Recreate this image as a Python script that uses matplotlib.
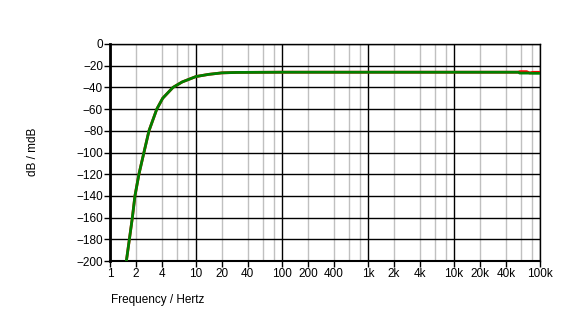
import matplotlib.pyplot as plt
import matplotlib.ticker as mticker

plt.rcParams['font.family'] = ['Liberation Sans', 'DejaVu Sans']
plt.rcParams['font.size'] = 8.5

freq = [1.55, 1.68, 1.82, 1.95, 2.17, 2.48, 2.84, 3.5, 4.1, 5.4, 6.9, 8.0, 10, 14, 20, 30,
        100, 1000, 10000, 56000, 58000, 70000, 76000, 82000, 100000]
level = [-200, -180, -160, -140, -120, -100, -80, -60, -50, -40, -35, -33, -30, -28, -26.6, -26.2,
         -26, -26, -26, -26, -26.8, -26.8, -26.8, -27, -27]
red_level = [-200, -180, -160, -140, -120, -100, -80, -60, -50, -40, -35, -33, -30, -28, -26.6, -26.2,
             -26, -26, -26, -26, -25.5, -25.5, -26.8, -26.1, -26.1]

xticks = [1, 2, 4, 10, 20, 40, 100, 200, 400, 1000, 2000, 4000, 10000, 20000, 40000, 100000]
xlabels = ['1', '2', '4', '10', '20', '40', '100', '200', '400', '1k', '2k', '4k',
           '10k', '20k', '40k', '100k']
yticks = list(range(-200, 1, 20))

fig = plt.figure(figsize=(5.77, 3.36), dpi=100)
ax = fig.add_axes([110 / 577, 1 - 261 / 336, 430 / 577, 217 / 336])

ax.plot(freq, red_level, color='red', lw=2, zorder=3)
ax.plot(freq, level, color='#008000', lw=2, zorder=4)

ax.set_xscale('log')
ax.set_xlim(1, 100000)
ax.set_ylim(-200, 0)

ax.xaxis.set_major_locator(mticker.FixedLocator(xticks))
ax.xaxis.set_major_formatter(mticker.FixedFormatter(xlabels))
ax.xaxis.set_minor_locator(mticker.NullLocator())
ax.set_yticks(yticks)

# grid: black at decades and every 20 dB, gray at 2,4,6,8
for d in [1, 10, 100, 1000, 10000, 100000]:
    ax.axvline(d, color='black', lw=1, zorder=2)
    if d < 100000:
        for m in [2, 4, 6, 8]:
            ax.axvline(d * m, color='#c0c0c0', lw=1, zorder=1)
for y in yticks:
    ax.axhline(y, color='black', lw=1, zorder=2)

for s in ax.spines.values():
    s.set_linewidth(1)
ax.spines['left'].set_linewidth(2)
ax.spines['bottom'].set_linewidth(1.5)

ax.tick_params(direction='out', length=4, width=1, pad=1, colors='black')

fig.text(33 / 577, 1 - 152 / 336, 'dB / mdB', rotation=90, ha='center', va='center')
fig.text(111 / 577, 1 - 300 / 336, 'Frequency / Hertz', ha='left', va='center')

plt.savefig('out.png', dpi=100)
